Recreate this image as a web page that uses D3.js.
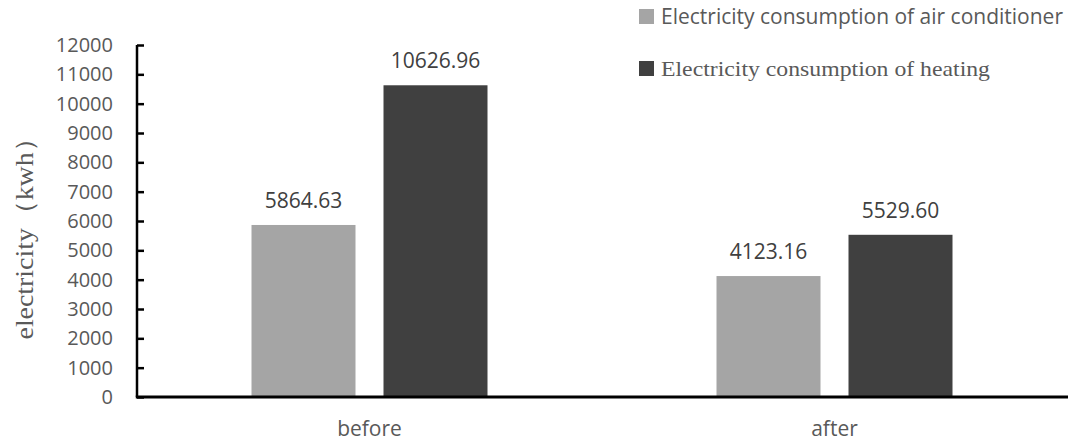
<!DOCTYPE html>
<html>
<head>
<meta charset="utf-8">
<script src="https://cdn.jsdelivr.net/npm/d3@7"></script>
<style>
  html, body { margin: 0; padding: 0; background: #fff; }
  svg { display: block; }
</style>
</head>
<body>
<svg id="chart" width="1068" height="441"></svg>
<script>
// Electricity use before and after the retrofit
const categories = ["before", "after"];
const seriesNames = [
  "Electricity consumption of air conditioner",
  "Electricity consumption of heating"
];
const airConditioner = [5864.63, 4123.16];
const heating = [10626.96, 5529.60];
const yTicks = [0, 1000, 2000, 3000, 4000, 5000, 6000, 7000, 8000, 9000, 10000, 11000, 12000];

const colors = ["#a5a5a5", "#404040"];
const sansFont = "'Open Sans', 'Liberation Sans', sans-serif";
const serifFont = "'Liberation Serif', 'Times New Roman', serif";

const svg = d3.select("#chart");
const plotLeft = 137, plotRight = 1067, plotTop = 45, plotBottom = 397;

const x = d3.scaleBand().domain(categories).range([plotLeft, plotRight]);
const y = d3.scaleLinear().domain([0, 12000]).range([plotBottom, plotTop]);

const barW = 104, barGap = 28;
const xs = d3.scaleBand().domain([0, 1])
  .range([-(barW + barGap / 2), barW + barGap / 2])
  .paddingInner(barGap / (barW + barGap)).paddingOuter(0);

const series = [airConditioner, heating];
const rows = categories.map((c, i) => series.map((s, k) => ({ cat: c, k, v: s[i] })));

// Bars
const groups = svg.append("g").selectAll("g").data(rows).join("g")
  .attr("transform", d => `translate(${x(d[0].cat) + x.bandwidth() / 2},0)`);

groups.selectAll("rect").data(d => d).join("rect")
  .attr("x", d => xs(d.k))
  .attr("width", xs.bandwidth())
  .attr("y", d => y(d.v))
  .attr("height", d => plotBottom - y(d.v))
  .attr("fill", d => colors[d.k]);

// Value labels
groups.selectAll("text").data(d => d).join("text")
  .attr("x", d => xs(d.k) + xs.bandwidth() / 2)
  .attr("y", d => y(d.v) - 17)
  .attr("text-anchor", "middle")
  .attr("font-family", sansFont)
  .attr("font-size", 21)
  .attr("fill", "#404040")
  .text(d => d.v.toFixed(2));

// Y axis
const yAxis = svg.append("g")
  .attr("transform", `translate(${plotLeft},0)`)
  .call(d3.axisRight(y).tickValues(yTicks).tickSize(7).tickFormat(d3.format("d")));
yAxis.select(".domain").attr("stroke", "#000").attr("stroke-width", 2.5)
  .attr("d", `M0,${plotTop}V${plotBottom}`);
yAxis.selectAll(".tick line").attr("stroke", "#000").attr("stroke-width", 2.5);
yAxis.selectAll(".tick text")
  .attr("x", -24)
  .attr("text-anchor", "end")
  .attr("font-family", sansFont)
  .attr("font-size", 20)
  .attr("fill", "#595959");

// X axis
const xAxis = svg.append("g")
  .attr("transform", `translate(0,${plotBottom})`)
  .call(d3.axisBottom(x).tickSize(0).tickPadding(24));
xAxis.select(".domain").attr("stroke", "#000").attr("stroke-width", 3)
  .attr("d", `M${plotLeft - 1.2},0H${plotRight + 1}`);
xAxis.selectAll(".tick text")
  .attr("dy", "0.71em")
  .attr("font-family", sansFont)
  .attr("font-size", 21)
  .attr("fill", "#595959");

// Y axis title
svg.append("text")
  .attr("transform", `translate(33,232) rotate(-90)`)
  .attr("text-anchor", "middle")
  .attr("font-family", serifFont)
  .attr("font-size", 25)
  .attr("textLength", 215)
  .attr("lengthAdjust", "spacingAndGlyphs")
  .attr("fill", "#595959")
  .text("electricity（kwh）");

// Legend
const legendFonts = [sansFont, serifFont];
const legendSizes = [21, 22];
const legendWidths = [402, 329];
const legendY = [16.5, 68.5];
const legend = svg.append("g").selectAll("g").data(seriesNames).join("g")
  .attr("transform", (d, i) => `translate(639,${legendY[i]})`);
legend.append("rect")
  .attr("x", 0).attr("y", -7.5).attr("width", 15).attr("height", 15)
  .attr("fill", (d, i) => colors[i]);
legend.append("text")
  .attr("x", 22).attr("y", 0).attr("dy", "0.35em")
  .attr("font-family", (d, i) => legendFonts[i])
  .attr("font-size", (d, i) => legendSizes[i])
  .attr("textLength", (d, i) => legendWidths[i])
  .attr("lengthAdjust", "spacingAndGlyphs")
  .attr("fill", "#595959")
  .text(d => d);
</script>
</body>
</html>
